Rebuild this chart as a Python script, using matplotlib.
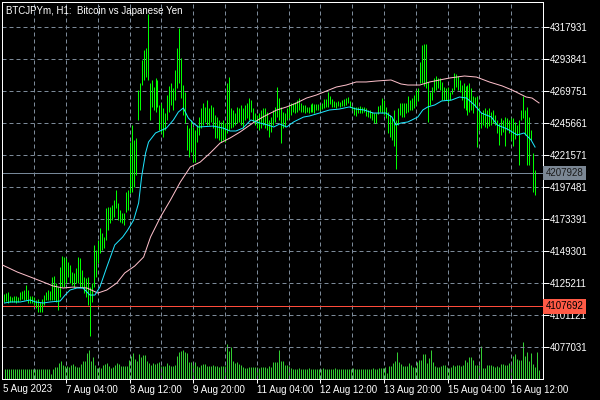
import numpy as np
import matplotlib
matplotlib.use("Agg")
import matplotlib.pyplot as plt
import matplotlib.transforms as mtransforms

plt.rcParams['font.family'] = ['Liberation Sans', 'DejaVu Sans']

# hourly bars, prices in thousands of yen
highs = [
    4116.9, 4117.6, 4118.4, 4115.4, 4114.6, 4115.4, 4115.4, 4114.6, 4118.4, 4119.1,
    4119.9, 4123.7, 4119.9, 4115.4, 4115.4, 4114.6, 4112.4, 4113.1, 4110.9, 4113.1,
    4116.1, 4118.4, 4119.9, 4119.1, 4129.7, 4130.4, 4125.1, 4122.1, 4137.2, 4145.5,
    4144.7, 4144.0, 4141.0, 4138.7, 4133.4, 4132.7, 4136.4, 4144.7, 4144.0, 4134.9,
    4129.7, 4128.9, 4129.7, 4122.1, 4125.1, 4153.8, 4150.0, 4157.5, 4166.6, 4162.8,
    4159.8, 4181.6, 4182.4, 4182.4, 4183.9, 4187.6, 4195.2, 4185.4, 4180.1, 4177.9,
    4177.9, 4193.7, 4195.2, 4231.3, 4244.1, 4232.8, 4234.3, 4270.4, 4275.7, 4293.0,
    4300.6, 4302.1, 4327.7, 4275.7, 4278.0, 4272.7, 4279.5, 4278.0, 4259.2, 4260.7,
    4256.9, 4253.1, 4266.7, 4273.5, 4275.7, 4272.0, 4285.5, 4302.1, 4317.1, 4294.5,
    4274.2, 4268.9, 4244.1, 4241.8, 4247.9, 4242.6, 4240.3, 4244.1, 4250.1, 4256.9,
    4260.7, 4257.7, 4262.9, 4256.9, 4259.2, 4257.7, 4251.6, 4250.1, 4247.9, 4246.4,
    4247.9, 4245.6, 4275.7, 4280.2, 4256.9, 4255.4, 4253.1, 4257.7, 4256.9, 4259.2,
    4256.9, 4259.2, 4260.7, 4264.4, 4262.9, 4256.9, 4253.1, 4251.6, 4253.1, 4255.4,
    4256.9, 4256.9, 4253.9, 4247.9, 4250.1, 4255.4, 4257.7, 4272.7, 4264.4, 4257.7,
    4253.9, 4253.1, 4256.9, 4259.2, 4260.7, 4260.7, 4261.4, 4262.9, 4264.4, 4260.7,
    4259.2, 4259.2, 4257.7, 4257.7, 4259.9, 4260.7, 4259.9, 4259.9, 4259.9, 4259.2,
    4260.7, 4263.7, 4263.7, 4268.9, 4265.9, 4263.7, 4262.2, 4261.4, 4262.2, 4261.4,
    4262.9, 4263.7, 4264.4, 4265.2, 4262.2, 4258.4, 4257.7, 4257.7, 4257.7, 4258.4,
    4257.7, 4257.7, 4256.9, 4255.4, 4255.4, 4253.9, 4253.1, 4253.1, 4258.4, 4259.2,
    4264.4, 4262.9, 4257.7, 4253.9, 4251.6, 4249.4, 4255.4, 4247.9, 4256.9, 4260.7,
    4260.7, 4260.7, 4260.7, 4265.9, 4262.9, 4264.4, 4266.7, 4270.4, 4272.0, 4291.5,
    4304.3, 4305.1, 4305.1, 4276.5, 4268.9, 4272.7, 4279.5, 4281.0, 4279.5, 4279.5,
    4276.5, 4272.7, 4272.0, 4272.7, 4268.9, 4272.0, 4283.2, 4282.5, 4281.0, 4278.0,
    4274.2, 4275.7, 4273.5, 4274.2, 4275.7, 4272.0, 4265.9, 4265.2, 4265.9, 4257.7,
    4253.9, 4255.4, 4256.9, 4255.4, 4256.9, 4253.9, 4255.4, 4251.6, 4247.9, 4245.6,
    4249.4, 4247.9, 4250.1, 4249.4, 4247.9, 4249.4, 4249.4, 4246.4, 4244.1, 4247.9,
    4255.4, 4265.9, 4255.4, 4257.7, 4250.1, 4240.3, 4223.0, 4210.2,
]
lows = [
    4110.9, 4111.6, 4110.1, 4110.9, 4110.9, 4110.9, 4110.1, 4110.9, 4112.4, 4113.1,
    4112.4, 4112.4, 4110.1, 4110.1, 4110.1, 4108.6, 4106.3, 4103.3, 4103.3, 4103.3,
    4108.6, 4112.4, 4112.4, 4112.4, 4112.4, 4112.4, 4110.9, 4104.8, 4114.6, 4122.1,
    4122.1, 4125.1, 4129.7, 4125.1, 4123.7, 4122.1, 4125.1, 4125.1, 4122.1, 4122.1,
    4117.6, 4114.6, 4108.6, 4085.3, 4110.9, 4122.1, 4129.7, 4140.2, 4147.7, 4150.0,
    4151.5, 4157.5, 4165.1, 4170.3, 4172.6, 4174.8, 4181.6, 4172.6, 4171.1, 4170.3,
    4168.8, 4178.6, 4180.1, 4192.9, 4193.7, 4197.4, 4206.5, 4247.9, 4255.4, 4274.2,
    4278.0, 4280.2, 4278.0, 4247.9, 4257.7, 4255.4, 4253.9, 4257.7, 4240.3, 4238.1,
    4235.1, 4240.3, 4247.9, 4253.9, 4259.2, 4255.4, 4262.9, 4272.0, 4275.7, 4264.4,
    4251.6, 4245.6, 4225.3, 4220.0, 4223.8, 4216.2, 4216.2, 4231.3, 4236.6, 4241.8,
    4244.1, 4246.4, 4244.1, 4244.1, 4246.4, 4241.8, 4234.3, 4234.3, 4232.8, 4231.3,
    4232.8, 4231.3, 4238.1, 4240.3, 4241.8, 4242.6, 4244.1, 4245.6, 4246.4, 4244.1,
    4241.8, 4247.9, 4249.4, 4247.9, 4253.9, 4246.4, 4244.1, 4241.8, 4240.3, 4241.8,
    4244.1, 4241.8, 4240.3, 4235.1, 4238.8, 4244.1, 4246.4, 4250.1, 4247.9, 4230.5,
    4241.8, 4242.6, 4247.9, 4249.4, 4251.6, 4253.9, 4253.1, 4253.9, 4255.4, 4253.9,
    4253.9, 4253.1, 4253.9, 4253.1, 4253.9, 4253.9, 4253.1, 4255.4, 4255.4, 4255.4,
    4256.1, 4256.9, 4257.7, 4257.7, 4259.9, 4257.7, 4257.7, 4256.9, 4258.4, 4257.7,
    4258.4, 4258.4, 4259.2, 4260.7, 4257.7, 4255.4, 4251.6, 4250.9, 4253.1, 4253.1,
    4253.1, 4253.9, 4250.9, 4250.1, 4249.4, 4247.9, 4245.6, 4245.6, 4252.4, 4253.9,
    4253.1, 4251.6, 4249.4, 4238.1, 4235.1, 4232.8, 4228.3, 4211.0, 4244.1, 4251.6,
    4250.1, 4250.1, 4253.1, 4253.9, 4255.4, 4255.4, 4256.9, 4259.2, 4262.2, 4275.7,
    4275.7, 4273.5, 4272.0, 4246.4, 4259.2, 4262.9, 4268.9, 4270.4, 4272.0, 4270.4,
    4262.9, 4262.9, 4262.9, 4261.4, 4262.9, 4267.4, 4270.4, 4272.7, 4270.4, 4268.9,
    4262.9, 4256.9, 4255.4, 4251.6, 4253.9, 4255.4, 4253.1, 4257.7, 4227.5, 4240.3,
    4241.8, 4244.1, 4242.6, 4241.8, 4243.3, 4244.1, 4245.6, 4244.1, 4238.1, 4229.0,
    4236.6, 4238.8, 4228.3, 4240.3, 4238.1, 4232.8, 4228.3, 4233.6, 4236.6, 4214.0,
    4247.9, 4249.4, 4236.6, 4214.0, 4214.0, 4232.8, 4193.7, 4191.4,
]
volume = [
    10, 10, 10, 10, 10, 10, 10, 10, 10, 10,
    10, 10, 10, 10, 10, 10, 10, 10, 10, 10,
    10, 10, 10, 5, 10, 12, 12, 16, 18, 14,
    13, 13, 12, 14, 15, 13, 12, 12, 15, 18,
    18, 26, 29, 18, 22, 14, 11, 12, 11, 14,
    15, 16, 13, 11, 12, 14, 16, 15, 13, 13,
    13, 13, 19, 23, 26, 20, 18, 25, 22, 24,
    24, 18, 16, 14, 16, 15, 16, 17, 13, 13,
    13, 16, 14, 13, 13, 14, 23, 27, 28, 29,
    27, 26, 17, 17, 17, 17, 13, 12, 14, 15,
    15, 13, 13, 13, 14, 13, 13, 12, 13, 13,
    13, 35, 28, 32, 18, 16, 17, 15, 14, 12,
    11, 11, 12, 12, 12, 12, 12, 11, 12, 12,
    12, 11, 13, 12, 17, 17, 17, 29, 18, 18,
    14, 14, 13, 11, 10, 10, 10, 11, 10, 10,
    10, 10, 11, 10, 10, 10, 10, 10, 10, 11,
    10, 10, 10, 10, 10, 11, 10, 10, 10, 10,
    10, 10, 10, 10, 11, 10, 10, 10, 10, 10,
    10, 10, 10, 10, 11, 10, 10, 11, 11, 11,
    12, 6, 13, 13, 16, 18, 27, 17, 15, 13,
    13, 13, 16, 14, 12, 12, 17, 19, 19, 25,
    25, 16, 21, 29, 17, 13, 12, 12, 13, 14,
    14, 12, 11, 12, 14, 13, 14, 14, 13, 14,
    19, 17, 22, 22, 19, 14, 14, 14, 33, 11,
    11, 14, 14, 14, 13, 12, 13, 12, 15, 15,
    14, 14, 16, 15, 23, 25, 20, 19, 19, 37,
    23, 27, 18, 26, 15, 12, 27, 9,
]

# moving averages (bar index, price in thousands)
fast_idx = [0, 3, 8, 13, 15.5, 19.5, 23, 28, 30.5, 33, 36.5, 39.5, 43, 45.5, 48, 51.5,
            55.5, 59.5, 62, 65, 67.5, 69, 71, 72.5, 76, 81.5, 85, 87.5, 90, 92.5, 95,
            97.5, 105, 110, 113.5, 116.5, 120, 124, 128.5, 132.5, 135.5, 138.5, 142,
            145.5, 150.5, 153.5, 158.5, 163.5, 168.5, 173.5, 177, 181, 185.5, 192, 195,
            197, 199.5, 203, 208, 210.5, 213, 216.5, 220, 225, 229, 232.5, 236.5, 240,
            245, 248, 253, 258, 261.5, 265, 267]
fast_ma = [4110.1, 4110.9, 4110.9, 4112.4, 4110.9, 4110.1, 4110.9, 4111.6, 4116.1, 4119.9,
           4121.4, 4121.4, 4116.1, 4116.1, 4122.1, 4137.2, 4153.8, 4159.8, 4165.1, 4172.6,
           4185.4, 4205.0, 4223.0, 4231.3, 4238.1, 4241.8, 4247.9, 4253.9, 4256.9, 4249.4,
           4245.6, 4242.6, 4243.3, 4241.8, 4239.6, 4239.6, 4241.8, 4247.9, 4245.6, 4244.1,
           4242.6, 4244.9, 4242.6, 4246.4, 4250.1, 4250.9, 4253.1, 4255.4, 4256.1, 4257.7,
           4256.1, 4255.4, 4253.1, 4253.1, 4250.1, 4244.1, 4245.6, 4246.4, 4250.1, 4255.4,
           4257.7, 4259.2, 4262.2, 4262.9, 4265.2, 4264.4, 4259.2, 4253.1, 4250.1, 4244.1,
           4241.1, 4236.6, 4238.1, 4232.8, 4227.5]
slow_idx = [-1, 6.5, 13, 19.5, 24.5, 29.5, 34.5, 41.5, 47, 51.5, 56.5, 60.5, 65.5, 70,
            73.5, 78.5, 83.5, 88.5, 93.5, 98.5, 103.5, 108.5, 113.5, 118.5, 125, 130, 133,
            137, 142, 147, 152, 157, 162, 167, 172, 177, 182, 187, 194.5, 199.5, 203, 209,
            214, 219, 224, 231.5, 237.5, 244, 250.5, 255.5, 262.5, 265.5, 269]
slow_ma = [4138.7, 4133.4, 4129.7, 4125.9, 4122.9, 4121.4, 4122.1, 4121.4, 4117.6, 4119.9,
           4125.1, 4132.7, 4137.9, 4144.7, 4159.8, 4174.8, 4187.6, 4201.2, 4212.5, 4216.2,
           4223.0, 4230.5, 4234.3, 4238.8, 4245.6, 4250.1, 4252.4, 4255.4, 4257.7, 4260.7,
           4264.4, 4266.7, 4269.7, 4272.7, 4274.2, 4276.5, 4276.5, 4277.2, 4278.0, 4275.0,
           4274.2, 4274.2, 4276.5, 4278.0, 4279.5, 4281.0, 4280.2, 4276.5, 4273.5, 4270.4,
           4265.2, 4264.4, 4260.7]

price_ticks = [4077031, 4101121, 4125211, 4149301, 4173391, 4197481,
               4221571, 4245661, 4269751, 4293841, 4317931]
time_pos = [31, 63, 95, 127, 159, 191, 223, 255]
time_labels = ["7 Aug 04:00", "8 Aug 12:00", "9 Aug 20:00", "11 Aug 04:00",
               "12 Aug 12:00", "13 Aug 20:00", "15 Aug 04:00", "16 Aug 12:00"]
bid = 4207928
level = 4107692

px = 0.72  # one pixel in points
highs = np.array(highs) * 1000
lows = np.array(lows) * 1000
fast_ma = np.array(fast_ma) * 1000
slow_ma = np.array(slow_ma) * 1000
idx = np.arange(len(highs))
x0, x1 = -1.25, 269.25

fig = plt.figure(figsize=(6, 4), dpi=100, facecolor='black')
rect = [2 / 600, 1 - 379 / 400, 541 / 600, 377 / 400]

vax = fig.add_axes(rect, facecolor='black')
vax.vlines(idx, 0, volume, color='#32cd32', lw=px)
vax.set_xlim(x0, x1)
vax.set_ylim(0, max(volume) * 377 / 37)
vax.axis('off')

ax = fig.add_axes(rect, facecolor='none')
ax.vlines(idx, lows, highs, color='#00ff00', lw=px, zorder=3)
ax.plot(slow_idx, slow_ma, color='#ffc0cb', lw=px, zorder=4)
ax.plot(fast_idx, fast_ma, color='#1ee6ff', lw=px, zorder=4)
ax.axhline(bid, color='#778899', lw=px, zorder=2)
ax.axhline(level, color='#ff4c3b', lw=px, zorder=2)

ax.set_xlim(x0, x1)
ax.set_ylim(4052900, 4336700)

ax.yaxis.tick_right()
ax.set_yticks(price_ticks)
ax.set_yticklabels([str(p) for p in price_ticks])
ax.set_xticks(time_pos)
ax.set_xticklabels(time_labels, ha='left')
ax.set_xticks([15 + 32 * k for k in range(9)], minor=True)
ax.tick_params(axis='y', colors='white', labelsize=7, length=4, width=px, pad=1)
ax.tick_params(axis='x', which='major', colors='white', labelsize=7, length=3, width=px, pad=1)
ax.tick_params(axis='x', which='minor', length=0)
ax.grid(True, which='both', color='#7c8a99', lw=px, ls=(0, (4, 3)))
for s in ax.spines.values():
    s.set_color('white')
    s.set_linewidth(px)

ax.text(0.002, -0.012, "5 Aug 2023", transform=ax.transAxes,
        ha='left', va='top', color='white', fontsize=7)

tr = mtransforms.blended_transform_factory(ax.transAxes, ax.transData)
ax.text(1.005, bid, str(bid), transform=tr, ha='left', va='center', fontsize=7, color='#1a1a1a',
        bbox=dict(boxstyle='square,pad=0.25', fc='#7b8794', ec='none'), clip_on=False, zorder=10)
ax.text(1.005, level, str(level), transform=tr, ha='left', va='center', fontsize=7, color='black',
        bbox=dict(boxstyle='square,pad=0.25', fc='#ff5a46', ec='none'), clip_on=False, zorder=10)

fig.text(6 / 600, 1 - 13.5 / 400, "BTCJPYm, H1:  Bitcoin vs Japanese Yen", color='white',
         fontsize=7, ha='left', va='baseline')

fig.savefig('out.png', dpi=100, facecolor='black')
